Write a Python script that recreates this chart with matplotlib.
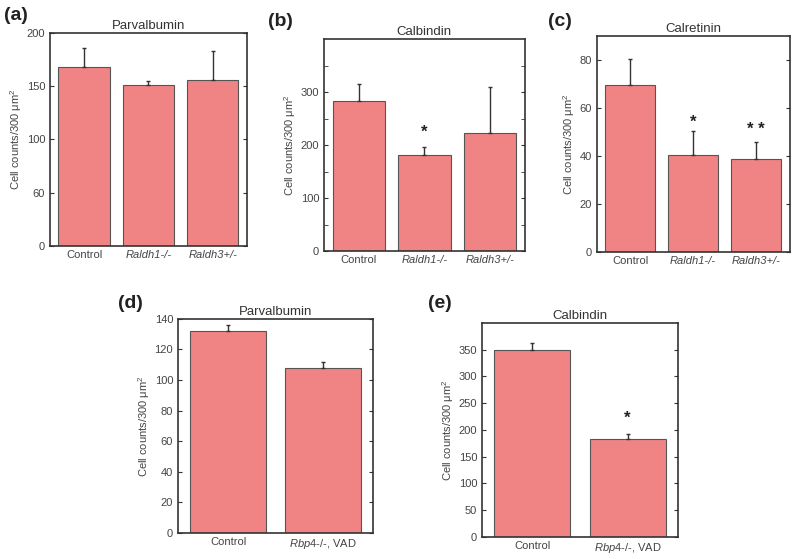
import matplotlib.pyplot as plt

plt.rcParams["font.family"] = ["Liberation Sans", "DejaVu Sans"]
plt.rcParams["mathtext.fontset"] = "custom"
plt.rcParams["mathtext.it"] = "Liberation Sans:italic"
plt.rcParams["mathtext.rm"] = "Liberation Sans"

# ---- data ----
groups_top = ["Control", "Raldh1-/-", "Raldh3+/-"]
groups_bottom = ["Control", "$\\it{Rbp4\u2010/\u2010}$, VAD"]

parv_top = [168, 151, 156]
parv_top_err = [18, 4, 27]

calb_top = [283, 182, 222]
calb_top_err = [32, 14, 88]

calr_top = [69.5, 40.5, 39]
calr_top_err = [11, 10, 7]

parv_bot = [132, 108]
parv_bot_err = [4, 4]

calb_bot = [350, 183]
calb_bot_err = [12, 9]

BAR = "#f08484"
EDGE = "#555555"
DARK = "#333333"

fig = plt.figure(figsize=(8, 5.59), dpi=100)


def panel(rect, title, label, labpos, names, vals, errs, ylim, ticks,
          ticklabels=None, minor=None, stars=None, italic=None):
    ax = fig.add_axes(rect)
    xs = list(range(len(vals)))
    ax.bar(xs, vals, width=0.8, color=BAR, edgecolor=EDGE, linewidth=0.8, zorder=2)
    ax.errorbar(xs, vals, yerr=[[0] * len(errs), errs], fmt="none",
                ecolor=DARK, elinewidth=1.0, capsize=1.5, capthick=1.0, zorder=3)
    ax.set_xlim(-0.53, len(vals) - 0.47)
    ax.set_ylim(*ylim)
    ax.set_yticks(ticks)
    if ticklabels:
        ax.set_yticklabels(ticklabels)
    if minor:
        ax.set_yticks(minor, minor=True)
    ax.set_xticks(xs)
    ax.set_xticklabels(names)
    for i, t in enumerate(ax.get_xticklabels()):
        if italic and italic[i]:
            t.set_style("italic")
    ax.tick_params(axis="y", which="both", direction="in", right=True, length=3,
                   labelsize=8, colors=DARK, labelcolor="#444444")
    ax.tick_params(axis="x", length=0, labelsize=8, labelcolor="#444444", pad=3)
    for s in ax.spines.values():
        s.set_color(DARK)
        s.set_linewidth(1.2)
    ax.set_title(title, fontsize=9.5, color="#333333", pad=3)
    ax.set_ylabel("Cell counts/300 \u03bcm$^2$", fontsize=8, color="#444444", labelpad=2)
    if stars:
        for x, y, txt in stars:
            ax.text(x, y, txt, ha="center", va="center", fontsize=12,
                    fontweight="bold", color="#222222")
    fig.text(labpos[0], labpos[1], label, fontsize=14, fontweight="bold", color="#222222",
             ha="left", va="center")
    return ax


panel([0.0625, 0.560, 0.246, 0.381], "Parvalbumin", "(a)", (0.005, 0.972),
      groups_top, parv_top, parv_top_err, (0, 200), [0, 50, 100, 150, 200],
      ticklabels=["0", "60", "100", "150", "200"], italic=[False, True, True])

panel([0.405, 0.551, 0.251, 0.379], "Calbindin", "(b)", (0.335, 0.962),
      groups_top, calb_top, calb_top_err, (0, 400), [0, 100, 200, 300],
      minor=[50, 150, 250, 350], stars=[(1, 224, "*")], italic=[False, True, True])

panel([0.746, 0.549, 0.241, 0.386], "Calretinin", "(c)", (0.685, 0.962),
      groups_top, calr_top, calr_top_err, (0, 90), [0, 20, 40, 60, 80],
      stars=[(1, 54, "*"), (2, 51, "* *")], italic=[False, True, True])

panel([0.2225, 0.0465, 0.244, 0.383], "Parvalbumin", "(d)", (0.148, 0.457),
      groups_bottom, parv_bot, parv_bot_err, (0, 140), [0, 20, 40, 60, 80, 100, 120, 140],
      italic=[False, False])

panel([0.6025, 0.0394, 0.245, 0.383], "Calbindin", "(e)", (0.535, 0.457),
      groups_bottom, calb_bot, calb_bot_err, (0, 400), [0, 50, 100, 150, 200, 250, 300, 350],
      stars=[(1, 222, "*")], italic=[False, False])

fig.savefig("out.png", dpi=100)
